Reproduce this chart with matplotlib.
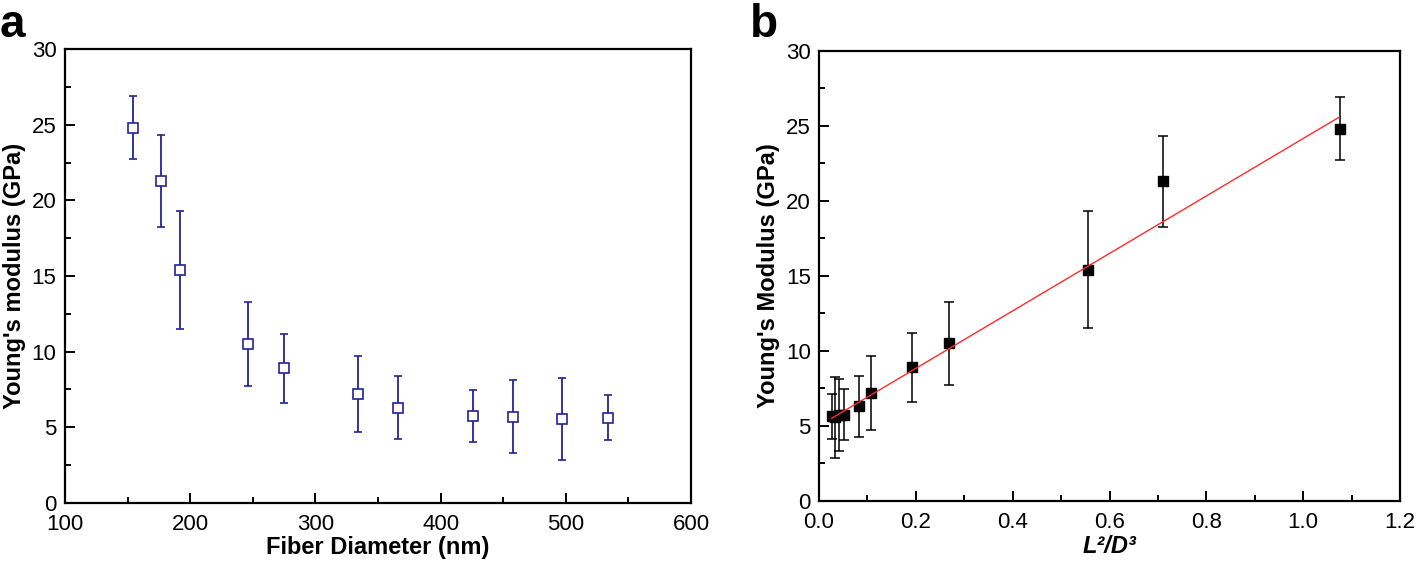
import numpy as np
import matplotlib
matplotlib.use('Agg')
import matplotlib.pyplot as plt
from matplotlib.ticker import MultipleLocator, FormatStrFormatter

plt.rcParams['font.family'] = ['Liberation Sans', 'DejaVu Sans']

# data
diameter = [154, 177, 192, 246, 275, 334, 366, 426, 458, 497, 534]
modulus = [24.8, 21.3, 15.4, 10.5, 8.9, 7.2, 6.3, 5.75, 5.7, 5.57, 5.64]
mod_err = [2.1, 3.05, 3.9, 2.78, 2.29, 2.49, 2.06, 1.7, 2.4, 2.7, 1.5]
l2_d3 = [1.076, 0.71, 0.556, 0.268, 0.192, 0.107, 0.082, 0.052, 0.041, 0.034, 0.026]
fit_x = [0.026, 1.074]
fit_y = [5.51, 25.58]

navy = '#23239a'

fig = plt.figure(figsize=(14.18, 5.64), dpi=100)
ax1 = fig.add_axes([0.0458, 0.1082, 0.4415, 0.8049])
ax2 = fig.add_axes([0.5776, 0.1117, 0.4097, 0.7979])

# panel a
ax1.errorbar(diameter, modulus, yerr=mod_err, fmt='s', color=navy,
             mfc='white', mec=navy, ms=6.5, mew=1.2, elinewidth=1.3,
             capsize=3.2, capthick=1.3)
ax1.set_xlim(100, 600)
ax1.set_ylim(0, 30)
ax1.xaxis.set_major_locator(MultipleLocator(100))
ax1.xaxis.set_minor_locator(MultipleLocator(50))
ax1.set_xlabel('Fiber Diameter (nm)', fontsize=17, fontweight='bold', labelpad=1)
ax1.set_ylabel("Young's modulus (GPa)", fontsize=17, fontweight='bold', labelpad=4)

# panel b
ax2.plot(fit_x, fit_y, color='#ff2a2a', lw=1.0, zorder=3)
ax2.errorbar(l2_d3, modulus, yerr=mod_err, fmt='s', color='black',
             ms=7.5, elinewidth=1.1, capsize=3.6, capthick=1.1, zorder=2)
ax2.set_xlim(0, 1.2)
ax2.set_ylim(0, 30)
ax2.xaxis.set_major_locator(MultipleLocator(0.2))
ax2.xaxis.set_minor_locator(MultipleLocator(0.1))
ax2.xaxis.set_major_formatter(FormatStrFormatter('%.1f'))
ax2.set_xlabel('L²/D³', fontsize=17, fontweight='bold', fontstyle='italic', labelpad=1)
ax2.set_ylabel("Young's Modulus (GPa)", fontsize=17, fontweight='bold', labelpad=4)

for ax in (ax1, ax2):
    ax.yaxis.set_major_locator(MultipleLocator(5))
    ax.yaxis.set_minor_locator(MultipleLocator(2.5))
    ax.tick_params(which='both', direction='in', top=False, right=False,
                   width=1.4, labelsize=16)
    ax.tick_params(axis='x', which='both', pad=8)
    ax.tick_params(axis='y', which='both', pad=6)
    ax.tick_params(which='major', length=7)
    ax.tick_params(which='minor', length=4)
    for s in ax.spines.values():
        s.set_linewidth(1.6)

fig.text(0.0, 0.935, 'a', fontsize=33, fontweight='bold', va='baseline')
fig.text(0.529, 0.935, 'b', fontsize=33, fontweight='bold', va='baseline')

fig.savefig('out.png', dpi=100)
